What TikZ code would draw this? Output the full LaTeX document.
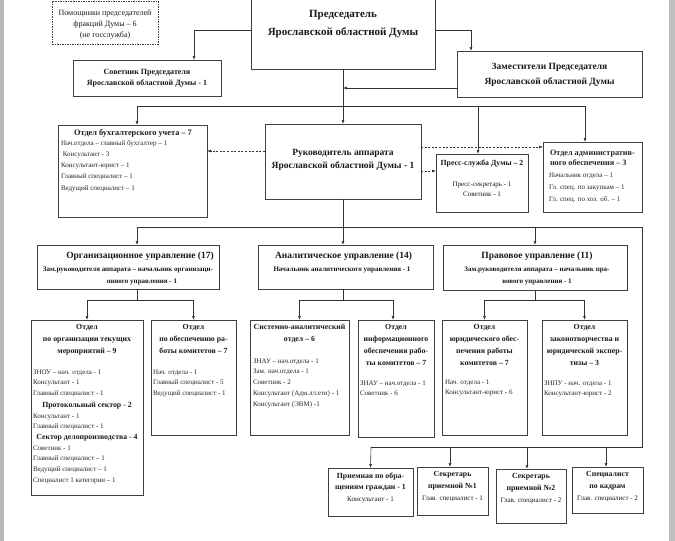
\documentclass[tikz,border=0pt]{standalone}
\usepackage{fontspec}
\setmainfont{Liberation Serif}
\usetikzlibrary{arrows.meta}
\newcommand\bbox[6][]{%
  \pgfmathsetmacro\bw{#4-#2}\pgfmathsetmacro\bh{#5-#3}%
  \node[boxst,#1,minimum width=\bw pt,minimum height=\bh pt,anchor=north west] (#6) at (#2,#3) {};}
\begin{document}
\begin{tikzpicture}[x=1pt,y=-1pt,
  boxst/.style={draw=black!75,line width=0.6pt,inner sep=0pt,outer sep=0pt},
  dbox/.style={dash pattern=on 1.5pt off 1pt},
  ln/.style={draw=black!80,line width=0.6pt},
  arr/.style={ln,-{Latex[length=4pt,width=3pt]}},
  darr/.style={ln,dash pattern=on 2pt off 1.6pt,-{Latex[length=4pt,width=3pt]}},
  tx/.style={inner sep=0pt,outer sep=0pt,anchor=base,align=center,text=black!90},
  tl/.style={inner sep=0pt,outer sep=0pt,anchor=base west,align=left,text=black!85},
  fPred/.style={font=\fontsize{11}{18}\selectfont\bfseries},
  fZam/.style={font=\fontsize{9.5}{15}\selectfont\bfseries},
  fRuk/.style={font=\fontsize{9.5}{13}\selectfont\bfseries},
  fSov/.style={font=\fontsize{8}{11}\selectfont\bfseries},
  fUpr/.style={font=\fontsize{9.5}{12}\selectfont\bfseries},
  fSub/.style={font=\fontsize{7}{12}\selectfont\bfseries},
  fT/.style={font=\fontsize{7.8}{12.2}\selectfont\bfseries},
  fB/.style={font=\fontsize{7}{10.8}\selectfont},
  fPom/.style={font=\fontsize{8}{11}\selectfont},
]
\useasboundingbox (0,0) rectangle (675,541);
\fill[gray!55] (0,0) rectangle (3.5,541);
\fill[gray!50] (669,0) rectangle (675,541);

% boxes
\bbox[dbox]{52}{1}{158}{44}{pom}
\bbox{251}{-2}{435}{69}{pred}
\bbox{73}{60}{221}{96}{sov}
\bbox{457}{51}{642}{97}{zam}
\bbox{58}{125}{207}{217}{buh}
\bbox{265}{124}{421}{199}{ruk}
\bbox{436}{154}{528}{212}{press}
\bbox{543}{142}{642}{212}{adm}
\bbox{37}{245}{219}{289}{org}
\bbox{258}{245}{433}{289}{anal}
\bbox{443}{245}{627}{290}{prav}
\bbox{31}{320}{143}{495}{otm}
\bbox{151}{320}{236}{435}{ocom}
\bbox{250}{320}{349}{435}{sys}
\bbox{358}{320}{434}{437}{inf}
\bbox{442}{320}{527}{435}{jur}
\bbox{542}{320}{627}{435}{zak}
\bbox{328}{468}{413}{516}{priem}
\bbox{417}{467}{488}{515}{sekA}
\bbox{496}{469}{566}{523}{sekB}
\bbox{572}{467}{643}{513}{kadr}

% texts (anchor = baseline of the last line)
\node[tx,fPom] (pomT) at (105,37) {Помощники председателей\\фракций Думы –  6\\(не госслужба)};
\node[tx,fPred] (predT) at (343,35.5) {Председатель\\Ярославской областной Думы};
\node[tx,fSov] (sovT) at (147,85) {Советник Председателя\\Ярославской областной Думы - 1};
\node[tx,fZam] (zamT) at (549.5,84.5) {Заместители Председателя\\Ярославской областной Думы};
\node[tx,fRuk] (rukT) at (343,168.5) {Руководитель аппарата\\Ярославской областной Думы - 1};
\node[tx,font=\fontsize{8.3}{10}\selectfont\bfseries] (buhT) at (133,135) {Отдел бухгалтерского учета – 7};
\node[tl,font=\fontsize{7}{11.25}\selectfont,text=black!85] (buhB) at (61,190) {Нач.отдела – главный бухгалтер – 1\\ \ Консультант  - 3\\Консультант-юрист – 1\\Главный специалист – 1\\Ведущий специалист – 1};
\node[tx,fT] (pressT) at (482,165) {Пресс-служба Думы – 2};
\node[tx,fB] (pressB) at (482,196.8) {Пресс-секретарь - 1\\Советник - 1};
\node[tl,font=\fontsize{8.2}{10.7}\selectfont\bfseries] (admT) at (550,165.7) {Отдел административ-\\ного обеспечения – 3};
\node[tl,font=\fontsize{7}{11.8}\selectfont] (admB) at (549,201.1) {Начальник отдела – 1\\Гл. спец. по закупкам – 1\\Гл. спец. по хоз. об. – 1};

\node[tx,fUpr] (orgT) at (140,258) {Организационное управление (17)};
\node[tx,fSub] (orgS1) at (128,271) {Зам.руководителя аппарата – начальник организаци-};
\node[tx,fSub] (orgS2) at (142,283) {онного  управления - 1};
\node[tx,fUpr] (analT) at (343.5,258) {Аналитическое управление (14)};
\node[tx,fSub] (analS) at (342,271) {Начальник аналитического управления - 1};
\node[tx,fUpr] (pravT) at (537,258) {Правовое управление (11)};
\node[tx,fSub] (pravS) at (537,283) {Зам.руководителя аппарата – начальник  пра-\\вового управления - 1};

\node[tx,fT] (otmT) at (87,353.4) {Отдел\\по организации текущих\\мероприятий – 9};
\node[tl,fB] (otmB1) at (33,395.6) {ЗНОУ –  нач. отдела  - 1\\Консультант  - 1\\Главный специалист - 1};
\node[tx,fT] (otmS1) at (87,407.5) {Протокольный сектор - 2};
\node[tl,fB] (otmB2) at (33,428.8) {Консультант - 1\\Главный специалист - 1};
\node[tx,fT] (otmS2) at (87,439) {Сектор делопроизводства - 4};
\node[tl,fB] (otmB3) at (33,482.4) {Советник - 1\\Главный специалист – 1\\Ведущий специалист – 1\\Специалист 1 категории – 1};

\node[tx,fT] (ocomT) at (193.5,353.4) {Отдел\\по обеспечению  ра-\\боты  комитетов – 7};
\node[tl,fB] (ocomB) at (153,395.6) {Нач. отдела - 1\\Главный специалист  - 5\\Ведущий специалист  - 1};

\node[tx,fT] (sysT) at (299.5,341.2) {Системно-аналитический\\отдел – 6};
\node[tl,fB] (sysB) at (253,406.2) {ЗНАУ – нач.отдела  - 1\\Зам. нач.отдела  - 1\\Советник - 2\\Консультант (Адм.л/сети)   - 1\\Консультант (ЭВМ) -1};

\node[tx,fT] (infT) at (396,365.6) {Отдел\\информационного\\обеспечения рабо-\\ты  комитетов – 7};
\node[tl,fB] (infB) at (360,395.8) {ЗНАУ – нач.отдела - 1\\Советник - 6};

\node[tx,fT] (jurT) at (484.5,365.6) {Отдел\\юридического обес-\\печения работы\\комитетов – 7};
\node[tl,fB] (jurB) at (445,394.8) {Нач. отдела - 1\\Консультант-юрист - 6};

\node[tx,fT] (zakT) at (584.5,365.6) {Отдел\\законотворчества и\\юридической экспер-\\тизы – 3};
\node[tl,fB] (zakB) at (544,395.8) {ЗНПУ - нач. отдела - 1\\Консультант-юрист  - 2};

\node[tx,font=\fontsize{7.8}{11}\selectfont\bfseries] (priemT) at (370.5,489) {Приемная по обра-\\щениям граждан - 1};
\node[tx,fB] (priemB) at (370.5,501) {Консультант - 1};
\node[tx,fT] (sekAT) at (452.5,488.2) {Секретарь\\приемной №1};
\node[tx,fB] (sekAB) at (452.5,500) {Глав. специалист - 1};
\node[tx,fT] (sekBT) at (531,490.2) {Секретарь\\приемной №2};
\node[tx,fB] (sekBB) at (531,502) {Глав. специалист - 2};
\node[tx,fT] (kadrT) at (607.5,488.2) {Специалист\\по кадрам};
\node[tx,fB] (kadrB) at (607.5,500) {Глав. специалист - 2};

% connectors
\draw[arr] ([yshift=3pt]pred.west) -| ([xshift=47pt]sov.north);
\draw[arr] ([yshift=3pt]pred.east) -| ([xshift=-78.5pt]zam.north);
\draw[arr] (pred.south) -- (ruk.north);
\draw[arr] ([yshift=-14pt]zam.west) -- ([yshift=-14pt]zam.west -| pred.south);
\coordinate (busA) at (343,106);
\draw[arr] (busA) -| ([xshift=4.5pt]buh.north);
\draw[arr] (busA) -| ([xshift=-4pt]press.north);
\draw[arr] (busA) -| ([xshift=-7.5pt]adm.north);
\draw[darr] ([yshift=10.5pt]ruk.west) -- ([yshift=10.5pt]ruk.west -| buh.east);
\draw[darr] ([yshift=-9.5pt]ruk.east) -- ([yshift=-9.5pt]ruk.east -| press.west);
\draw[darr] ([yshift=14.5pt]ruk.east) -- ([yshift=14.5pt]ruk.east -| adm.west);

\coordinate (busB) at (343,227);
\coordinate (busBr) at (642,447);
\coordinate (busBl) at (371,447);
\draw[ln] (ruk.south) -- (busB);
\draw[arr] (busB) -- (busB |- anal.north);
\draw[arr] (busB) -| ([xshift=9pt]org.north);
\draw[arr] (busB) -| (prav.north);
\draw[ln] (busB) -| (busBr) -- (busBl);
\draw[arr] (busBl) -- (priem.north);
\draw[arr] (busBl -| sekA.north) ++(-2.5pt,0) -- ([xshift=-2.5pt]sekA.north);
\draw[arr] (busBl -| sekB.north) ++(-4pt,0) -- ([xshift=-4pt]sekB.north);
\draw[arr] (busBl -| kadr.north) ++(-1.5pt,0) -- ([xshift=-1.5pt]kadr.north);

\coordinate (busC) at (137,300);
\draw[ln] ([xshift=9pt]org.south) -- (busC);
\draw[arr] (busC) -| (otm.north);
\draw[arr] (busC) -| (ocom.north);
\coordinate (busD) at (343,300);
\draw[ln] (anal.south -| busD) -- (busD);
\draw[arr] (busD) -| (sys.north);
\draw[arr] (busD) -| ([xshift=-3pt]inf.north);
\coordinate (busE) at (535,300);
\draw[ln] (prav.south) -- (busE);
\draw[arr] (busE) -| (jur.north);
\draw[arr] (busE) -| (zak.north);
\end{tikzpicture}
\end{document}
